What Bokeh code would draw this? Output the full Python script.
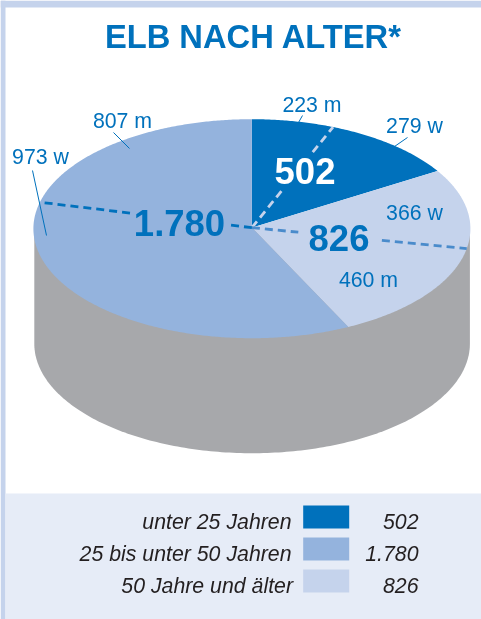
import numpy as np
from bokeh.plotting import figure
from bokeh.models import Range1d
from bokeh.core.properties import value
from bokeh.embed import file_html
from bokeh.resources import INLINE

# ---- data
categories = ["unter 25 Jahren", "25 bis unter 50 Jahren", "50 Jahre und älter"]
totals = [502, 1780, 826]
total_labels = ["502", "1.780", "826"]
# clockwise order on the disc, starting at twelve o'clock
pie_order = [0, 2, 1]
split_labels = ["223 m", "279 w", "366 w", "460 m", "973 w", "807 m"]
# the dashed dividers are hand placed in the original: clockwise degrees from the top
divider_degrees = [21.8, 100.5, 284.0]

# ---- styles and layout
BLUE, MID, PALE = "#0071BC", "#94B3DD", "#C5D3EC"
GREY = "#A7A8AB"
colors = {0: BLUE, 1: MID, 2: PALE}
W, H = 481, 619
CX, CY, RX, RY = 251.4, 228.2, 218.5, 109.5
AX, AY = 251.4, 227.2
WALL_CX, WALL_RX, DEPTH = 251.6, 217.8, 115.0

p = figure(width=W, height=H, x_range=Range1d(0, W), y_range=Range1d(H, 0),
           toolbar_location=None, output_backend="svg", min_border=0,
           background_fill_color="white", border_fill_color="white", outline_line_color=None)
p.axis.visible = False
p.grid.visible = False
p.styles = {"position": "fixed", "left": "0px", "top": "0px"}

FONT = value("Liberation Sans")

def txt(x, y, s, size, color, style="normal", align="center"):
    p.text([x], [y], text=[s], text_font=FONT, text_font_size=f"{size}px", text_font_style=style,
           text_color=color, text_align=align, text_baseline="middle")

# frame and legend panel
p.quad(left=[0, 0], right=[W, 5], top=[0, 0], bottom=[7, H], fill_color=PALE, line_color=None)
p.quad(left=[5], right=[W], top=[493], bottom=[H], fill_color="#E6ECF7", line_color=None)

txt(253, 36, "ELB NACH ALTER*", 32.7, BLUE, "bold")

# side wall of the drum
t = np.radians(np.linspace(90, 270, 181))
wx = WALL_CX + WALL_RX * np.sin(t)
wy = CY + DEPTH + RY * (-np.cos(t))
p.patch(np.r_[WALL_CX + WALL_RX, wx, WALL_CX - WALL_RX], np.r_[CY, wy, CY],
        fill_color=GREY, line_color=None)

def rim(deg):
    a = np.radians(deg)
    return CX + RX * np.sin(a), CY - RY * np.cos(a)

# top slices, from the values
grand = sum(totals)
start = 0.0
for i in pie_order:
    sweep = 360.0 * totals[i] / grand
    a = np.linspace(start, start + sweep, max(int(sweep) * 2, 8))
    xs, ys = rim(a)
    p.patch(np.r_[AX, xs], np.r_[AY, ys], fill_color=colors[i], line_color=None)
    start += sweep

# dashed dividers with gaps behind the totals
gaps = [[(0.0, 0.38), (0.75, 1.0)], [(0.0, 0.216), (0.605, 1.0)], [(0.0, 0.104), (0.575, 1.0)]]
dash_colors = ["#C5D3EC", "#4A8BCB", BLUE]
for deg, segs, col in zip(divider_degrees, gaps, dash_colors):
    ex, ey = rim(deg)
    for a, b in segs:
        p.line([AX + (ex - AX) * a, AX + (ex - AX) * b], [AY + (ey - AY) * a, AY + (ey - AY) * b],
               line_color=col, line_width=2.8, line_dash="8 5")

# totals
txt(304.5, 170, total_labels[0], 36.5, "white", "bold")
txt(179, 222, total_labels[1], 36.5, BLUE, "bold")
txt(338.5, 237, total_labels[2], 36.5, BLUE, "bold")

# split labels and their leaders
label_pos = [(311.5, 104), (414, 125), (414, 212), (368, 279), (40, 156), (122, 120)]
for (x, y), s in zip(label_pos, split_labels):
    txt(x, y, s, 21.3, BLUE)
leaders = [((302, 115), (298, 122)), ((407, 137), (394, 146)), ((32, 170), (46, 235)), ((113, 132), (129, 148))]
for a, b in leaders:
    p.line([a[0], b[0]], [a[1], b[1]], line_color=BLUE, line_width=1)

# legend
rows_y = [521, 553, 585]
name_right = [291, 291, 292.5]
legend_colors = [BLUE, MID, PALE]
for yy, nr, name, lab, col in zip(rows_y, name_right, categories, total_labels, legend_colors):
    txt(nr, yy, name, 21.3, "#231F20", "italic", "right")
    txt(418, yy, lab, 21.3, "#231F20", "italic", "right")
    p.quad(left=[302.7], right=[348.7], top=[yy - 16], bottom=[yy + 7], fill_color=col, line_color=None)

open("out.html", "w").write(file_html(p, INLINE))
